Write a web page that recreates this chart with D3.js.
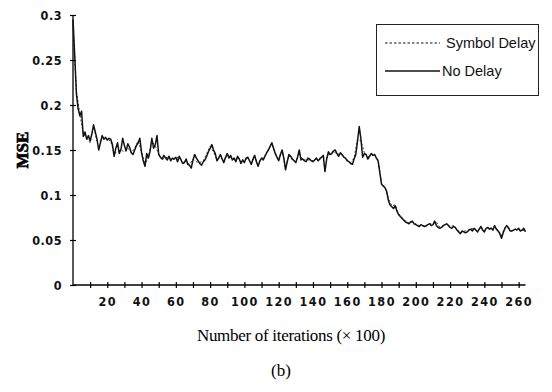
<!DOCTYPE html>
<html>
<head>
<meta charset="utf-8">
<script src="https://cdn.jsdelivr.net/npm/d3@7"></script>
<style>
  body { margin: 0; background: #fff; }
  svg { display: block; }
</style>
</head>
<body>
<div id="chart"></div>
<script>
// MSE per iteration block (x100)
const noDelay = [
  0.295, 0.255, 0.212, 0.196, 0.188, 0.193, 0.165, 0.170, 0.162, 0.166,
  0.160, 0.168, 0.178, 0.170, 0.162, 0.150, 0.158, 0.166, 0.162, 0.164,
  0.161, 0.163, 0.162, 0.156, 0.143, 0.152, 0.158, 0.146, 0.151, 0.163,
  0.155, 0.149, 0.157, 0.153, 0.147, 0.145, 0.150, 0.155, 0.158, 0.163,
  0.147, 0.138, 0.132, 0.146, 0.141, 0.149, 0.163, 0.152, 0.156, 0.166,
  0.145, 0.142, 0.140, 0.144, 0.141, 0.139, 0.143, 0.138, 0.141, 0.140,
  0.142, 0.137, 0.143, 0.139, 0.135, 0.136, 0.140, 0.134, 0.133, 0.130,
  0.139, 0.145, 0.141, 0.138, 0.135, 0.133, 0.137, 0.139, 0.143, 0.148,
  0.152, 0.156, 0.150, 0.146, 0.138, 0.141, 0.145, 0.140, 0.136, 0.142,
  0.146, 0.141, 0.144, 0.139, 0.141, 0.137, 0.143, 0.140, 0.135, 0.139,
  0.136, 0.141, 0.142, 0.138, 0.134, 0.140, 0.144, 0.137, 0.132, 0.138,
  0.141, 0.139, 0.143, 0.147, 0.150, 0.154, 0.158, 0.152, 0.146, 0.142,
  0.138, 0.145, 0.150, 0.141, 0.128, 0.137, 0.145, 0.143, 0.140, 0.138,
  0.136, 0.142, 0.150, 0.139, 0.140, 0.138, 0.137, 0.141, 0.140, 0.138,
  0.137, 0.139, 0.141, 0.138, 0.140, 0.142, 0.144, 0.126, 0.140, 0.148,
  0.145, 0.146, 0.149, 0.150, 0.146, 0.143, 0.147, 0.145, 0.142, 0.141,
  0.138, 0.137, 0.135, 0.134, 0.140, 0.145, 0.160, 0.176, 0.162, 0.142,
  0.146, 0.145, 0.140, 0.143, 0.146, 0.144, 0.145, 0.141, 0.138, 0.125,
  0.112, 0.110, 0.108, 0.104, 0.094, 0.089, 0.087, 0.085, 0.088, 0.082,
  0.078, 0.076, 0.074, 0.072, 0.070, 0.069, 0.068, 0.070, 0.071, 0.068,
  0.067, 0.066, 0.065, 0.067, 0.066, 0.065, 0.066, 0.067, 0.068, 0.066,
  0.067, 0.071, 0.066, 0.064, 0.063, 0.064, 0.066, 0.067, 0.068, 0.066,
  0.064, 0.063, 0.065, 0.064, 0.061, 0.059, 0.057, 0.060, 0.059, 0.058,
  0.059, 0.061, 0.062, 0.060, 0.063, 0.061, 0.059, 0.062, 0.065, 0.061,
  0.059, 0.063, 0.064, 0.062, 0.063, 0.061, 0.066, 0.062, 0.060, 0.057,
  0.052, 0.058, 0.063, 0.066, 0.064, 0.060, 0.060, 0.061, 0.062, 0.061,
  0.063, 0.060, 0.061, 0.063, 0.059
];
// symbol delay curve, sampled every 2 blocks
const symbolDelay = [
  0.290, 0.215, 0.190, 0.168, 0.164, 0.158, 0.176, 0.160, 0.160, 0.165,
  0.162, 0.160, 0.146, 0.148, 0.150, 0.148, 0.152, 0.147, 0.152, 0.160,
  0.148, 0.133, 0.143, 0.160, 0.154, 0.146, 0.139, 0.142, 0.141, 0.139,
  0.141, 0.142, 0.136, 0.138, 0.134, 0.140, 0.137, 0.136, 0.138, 0.146,
  0.154, 0.148, 0.139, 0.144, 0.137, 0.145, 0.142, 0.139, 0.141, 0.137,
  0.137, 0.141, 0.135, 0.143, 0.134, 0.140, 0.144, 0.150, 0.157, 0.147,
  0.139, 0.149, 0.130, 0.144, 0.139, 0.137, 0.147, 0.139, 0.139, 0.139,
  0.138, 0.140, 0.141, 0.143, 0.141, 0.146, 0.149, 0.145, 0.146, 0.142,
  0.139, 0.136, 0.141, 0.162, 0.160, 0.147, 0.142, 0.146, 0.144, 0.139,
  0.113, 0.109, 0.096, 0.088, 0.089, 0.079, 0.075, 0.071, 0.069, 0.070,
  0.068, 0.066, 0.066, 0.065, 0.068, 0.068, 0.070, 0.064, 0.065, 0.068,
  0.065, 0.066, 0.062, 0.058, 0.060, 0.060, 0.063, 0.062, 0.060, 0.064,
  0.060, 0.064, 0.063, 0.065, 0.061, 0.055, 0.064, 0.063, 0.060, 0.062,
  0.062, 0.061, 0.060
];
const xTicks = [10, 20, 30, 40, 50, 60, 70, 80, 90, 100, 110, 120, 130, 140, 150, 160, 170, 180, 190, 200, 210, 220, 230, 240, 250, 260];
const xLabels = [20, 40, 60, 80, 100, 120, 140, 160, 180, 200, 220, 240, 260];
const yTicks = [0, 0.05, 0.1, 0.15, 0.2, 0.25, 0.3];
const legendLabels = ["Symbol Delay", "No Delay"];

const width = 552;
const height = 392;

const svg = d3.select("#chart")
    .append("svg")
    .attr("width", width)
    .attr("height", height);

const x = d3.scaleLinear().domain([0, 264]).range([73, 525.5]);
const y = d3.scaleLinear().domain([0, 0.3]).range([285, 15]);

const tickFont = "'Liberation Sans Narrow', 'DejaVu Sans Condensed', sans-serif";

// x axis
const xAxis = svg.append("g")
    .attr("transform", `translate(0,${y(0)})`)
    .call(d3.axisBottom(x)
        .tickValues(xTicks)
        .tickSize(3)
        .tickPadding(9)
        .tickFormat(d => xLabels.includes(d) ? d : ""));
xAxis.select(".domain").attr("stroke-width", 1.5).attr("d", `M${x(0)},0H${x(264)}`);
xAxis.selectAll(".tick line").attr("y1", -3).attr("stroke-width", 1.2);
xAxis.selectAll("text")
    .style("font-family", tickFont)
    .style("font-size", "12.5px")
    .style("font-weight", "bold")
    .style("letter-spacing", "1.5px")
    .attr("fill", "#111");

// y axis
const yAxis = svg.append("g")
    .attr("transform", `translate(${x(0)},0)`)
    .call(d3.axisLeft(y)
        .tickValues(yTicks)
        .tickSize(3)
        .tickPadding(8)
        .tickFormat(d => d3.format("")(+d.toFixed(2))));
yAxis.select(".domain").attr("stroke-width", 1.3).attr("d", `M0,${y(0)}V${y(0.3)}`);
yAxis.selectAll(".tick line").attr("x1", 3).attr("stroke-width", 1.2);
yAxis.selectAll("text")
    .style("font-family", tickFont)
    .style("font-size", "12.5px")
    .style("font-weight", "bold")
    .style("letter-spacing", "0.5px")
    .attr("fill", "#111");

// lines
const lineNo = d3.line()
    .x((d, i) => x(i))
    .y(d => y(d));
const lineSym = d3.line()
    .x((d, i) => x(i * 2))
    .y(d => y(d));

svg.append("path")
    .datum(symbolDelay)
    .attr("fill", "none")
    .attr("stroke", "#333")
    .attr("stroke-width", 1)
    .attr("stroke-dasharray", "2,2")
    .attr("d", lineSym);

svg.append("path")
    .datum(noDelay)
    .attr("fill", "none")
    .attr("stroke", "#111")
    .attr("stroke-width", 1.5)
    .attr("stroke-linejoin", "round")
    .attr("d", lineNo);

// axis titles
svg.append("text")
    .attr("transform", "translate(28,150) rotate(-90)")
    .attr("text-anchor", "middle")
    .attr("font-family", "'Liberation Serif', 'DejaVu Serif', serif")
    .attr("font-weight", 700)
    .attr("font-size", 17)
    .attr("fill", "#000")
    .attr("stroke", "#000")
    .attr("stroke-width", 0.7)
    .text("MSE");

svg.append("text")
    .attr("x", 291)
    .attr("y", 341)
    .attr("text-anchor", "middle")
    .style("font-family", "'Liberation Serif', 'Times New Roman', serif")
    .style("font-size", "17px")
    .style("letter-spacing", "-0.3px")
    .text("Number of iterations (\u00d7 100)");

svg.append("text")
    .attr("x", 281)
    .attr("y", 376)
    .attr("text-anchor", "middle")
    .style("font-family", "'Liberation Serif', 'Times New Roman', serif")
    .style("font-size", "17px")
    .text("(b)");

// legend
const legend = svg.append("g");
legend.append("rect")
    .attr("x", 376.5)
    .attr("y", 24.5)
    .attr("width", 162)
    .attr("height", 71)
    .attr("fill", "#fff")
    .attr("stroke", "#222")
    .attr("stroke-width", 1);

const legendRows = legend.selectAll(".row")
    .data(legendLabels)
    .enter().append("g")
    .attr("class", "row")
    .attr("transform", (d, i) => `translate(0,${i === 0 ? 43 : 71})`);

legendRows.append("line")
    .attr("x1", 385)
    .attr("x2", 440)
    .attr("stroke", "#111")
    .attr("stroke-width", (d, i) => i === 0 ? 1 : 1.4)
    .attr("stroke-dasharray", (d, i) => i === 0 ? "2.5,2" : null);

legendRows.append("text")
    .attr("x", (d, i) => i === 0 ? 446 : 442)
    .attr("y", 5)
    .style("font-family", "'Liberation Sans', Arial, sans-serif")
    .style("font-size", "14.5px")
    .attr("fill", "#111")
    .text(d => d);
</script>
</body>
</html>
